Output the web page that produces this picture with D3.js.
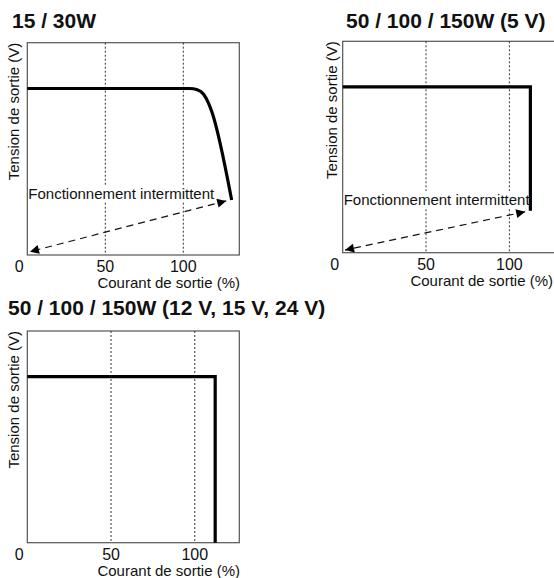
<!DOCTYPE html>
<html>
<head>
<meta charset="utf-8">
<script src="https://cdn.jsdelivr.net/npm/d3@7/dist/d3.min.js"></script>
<style>
  html, body { margin: 0; padding: 0; background: #fff; }
  svg { display: block; font-family: "Liberation Sans", Arial, Helvetica, sans-serif; }
</style>
</head>
<body>
<svg id="chart" width="554" height="578"></svg>
<script>
// tick labels and titles
const xTicks = [0, 50, 100];
const titles = ["15 / 30W", "50 / 100 / 150W (5 V)", "50 / 100 / 150W (12 V, 15 V, 24 V)"];
const xLabel = "Courant de sortie (%)";
const yLabel = "Tension de sortie (V)";
const hiccupLabel = "Fonctionnement intermittent";

// output curves: [current %, voltage %]
const curve15W = [[0, 100], [104, 100], [109, 99.2], [113, 96.5], [116, 91.5], [118.3, 86], [131, 33]];
const curve5V = [[0, 100], [112.6, 100], [112.6, 25.3]];
const curve12V = [[0, 100], [112.2, 100], [112.2, 0]];

// hiccup (intermittent) arrows: [current %, voltage %]
const hiccup15W = [[1.7, 2], [127.5, 32.5]];
const hiccup5V = [[1.4, 1.6], [109.5, 24.7]];

// axis ranges
const xMaxes = [135.9, 127.2, 126.6];
const yMax = 127.5;

const svg = d3.select('#chart');

const defs = svg.append('defs');
defs.append('marker')
    .attr('id', 'arrow')
    .attr('viewBox', '0 0 10 10')
    .attr('refX', 10)
    .attr('refY', 5)
    .attr('markerUnits', 'userSpaceOnUse')
    .attr('markerWidth', 11)
    .attr('markerHeight', 9)
    .attr('orient', 'auto-start-reverse')
    .append('path')
    .attr('d', 'M0,0 L10,5 L0,10 Z')
    .attr('fill', '#000');

// panel frames in pixels
const panels = [
    { left: 27.3, top: 42.7, bottom: 255, curve: curve15W, hiccup: hiccup15W, xMax: xMaxes[0], title: titles[0],
      titleX: 12, titleY: 28, textY: 199, yLabX: 19, labelEnd: 240 },
    { left: 342.7, top: 41.3, bottom: 252.7, curve: curve5V, hiccup: hiccup5V, xMax: xMaxes[1], title: titles[1],
      titleX: 346, titleY: 28, textY: 205, yLabX: 337, labelEnd: 553 },
    { left: 27.3, top: 331, bottom: 542.7, curve: curve12V, hiccup: null, xMax: xMaxes[2], title: titles[2],
      titleX: 8, titleY: 315, textY: 0, yLabX: 19, labelEnd: 240 }
];

panels.forEach(p => {
    const width = 212;
    const x = d3.scaleLinear().domain([0, p.xMax]).range([p.left, p.left + width]);
    const y = d3.scaleLinear().domain([0, yMax]).range([p.bottom, p.top]);
    const g = svg.append('g');

    // title
    g.append('text')
        .attr('x', p.titleX)
        .attr('y', p.titleY)
        .attr('font-size', 21)
        .attr('font-weight', 'bold')
        .attr('fill', '#111')
        .text(p.title);

    // frame
    g.append('rect')
        .attr('x', x(0))
        .attr('y', y(yMax))
        .attr('width', x(p.xMax) - x(0))
        .attr('height', y(0) - y(yMax))
        .attr('fill', 'none')
        .attr('stroke', '#555')
        .attr('stroke-width', 1.2);

    // dotted reference lines
    g.selectAll('.ref')
        .data(xTicks.filter(d => d > 0))
        .enter()
        .append('line')
        .attr('class', 'ref')
        .attr('x1', d => x(d))
        .attr('x2', d => x(d))
        .attr('y1', y(yMax))
        .attr('y2', y(0))
        .attr('stroke', '#333')
        .attr('stroke-width', 1)
        .attr('stroke-dasharray', '2,2');

    // tick labels
    g.selectAll('.tick')
        .data(xTicks)
        .enter()
        .append('text')
        .attr('class', 'tick')
        .attr('x', d => d === 0 ? x(d) - 8 : x(d))
        .attr('y', y(0) + 17)
        .attr('text-anchor', 'middle')
        .attr('font-size', 16)
        .attr('fill', '#111')
        .text(d => d);

    // x label
    g.append('text')
        .attr('x', p.labelEnd)
        .attr('y', y(0) + 33)
        .attr('text-anchor', 'end')
        .attr('font-size', 15)
        .attr('fill', '#111')
        .text(xLabel);

    // y label
    g.append('text')
        .attr('transform', `translate(${p.yLabX},${y(yMax)}) rotate(-90)`)
        .attr('text-anchor', 'end')
        .attr('font-size', 15)
        .attr('fill', '#111')
        .text(yLabel);

    // intermittent operation
    if (p.hiccup) {
        g.append('path')
            .datum(p.hiccup.slice().reverse())
            .attr('d', d3.line().x(d => x(d[0])).y(d => y(d[1])))
            .attr('fill', 'none')
            .attr('stroke', '#111')
            .attr('stroke-width', 1.2)
            .attr('stroke-dasharray', '7,5')
            .attr('marker-start', 'url(#arrow)')
            .attr('marker-end', 'url(#arrow)');

        const t = g.append('text')
            .attr('x', x(0) + 1)
            .attr('y', p.textY)
            .attr('font-size', 15)
            .attr('fill', '#111')
            .text(hiccupLabel);
        const bb = t.node().getBBox();
        g.insert('rect', () => t.node())
            .attr('x', bb.x)
            .attr('y', bb.y)
            .attr('width', bb.width)
            .attr('height', bb.height)
            .attr('fill', '#fff');
    }

    // characteristic curve
    const curveType = p.curve.length > 3 ? d3.curveMonotoneX : d3.curveLinear;
    g.append('path')
        .datum(p.curve)
        .attr('d', d3.line().x(d => x(d[0])).y(d => y(d[1])).curve(curveType))
        .attr('fill', 'none')
        .attr('stroke', '#000')
        .attr('stroke-width', 3.2)
        .attr('stroke-linejoin', 'miter');
});
</script>
</body>
</html>
